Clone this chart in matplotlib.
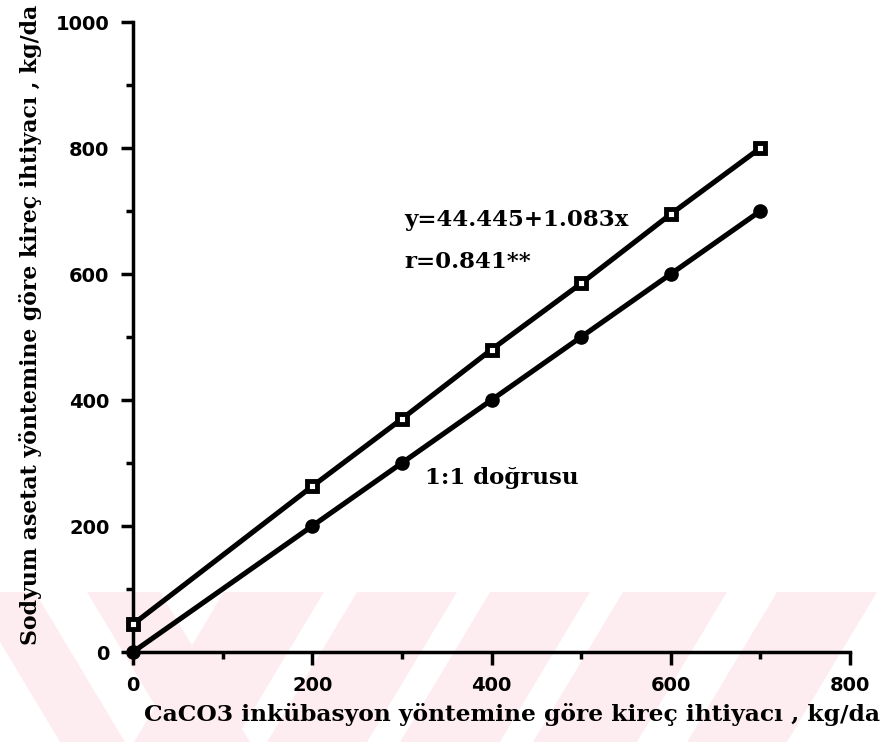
import numpy as np
import matplotlib.pyplot as plt
from matplotlib.ticker import MultipleLocator
from matplotlib.patches import Polygon

###--- Data ---###
x_pts = [0, 200, 300, 400, 500, 600, 700]
y_sodyum = [44, 263, 370, 480, 585, 695, 800]   # Sodyum asetat yontemi
y_one = [0, 200, 300, 400, 500, 600, 700]       # 1:1 dogrusu

xlab = 'CaCO3 inkübasyon yöntemine göre kireç ihtiyacı , kg/da'
ylab = 'Sodyum asetat yöntemine göre kireç ihtiyacı , kg/da'
eq_txt = 'y=44.445+1.083x'
r_txt = 'r=0.841**'
one_txt = '1:1 doğrusu'

W, H = 884., 742.

###--- Plotting ---###
fig = plt.figure()
fig.set_size_inches(W/100, H/100)

##-- faint watermark stripes at the bottom (scan artefact), behind everything --##
bg = fig.add_axes([0, 0, 1, 1], zorder=-1)
bg.set_xlim(0, W); bg.set_ylim(H, 0); bg.axis('off')
pink = '#fdedf0'
ytop, ybot, sh = 592, 742, 90
for x0, x1 in [(-30, 35), (87, 160)]:          # "\" stripes on the left
    bg.add_patch(Polygon([[x0, ytop], [x1, ytop], [x1+sh, ybot], [x0+sh, ybot]],
                         facecolor=pink, edgecolor='none'))
for x0, x1 in [(224, 324), (357, 457), (490, 590), (623, 727), (777, 877)]:  # "/" stripes
    bg.add_patch(Polygon([[x0, ytop], [x1, ytop], [x1-sh, ybot], [x0-sh, ybot]],
                         facecolor=pink, edgecolor='none'))

ax = fig.add_axes([133/W, 1-652/H, 717/W, 630/H])
ax.patch.set_alpha(0)

ax.plot(x_pts, y_sodyum, color='k', lw=3.7, marker='s', ms=7.5,
        mfc='white', mec='k', mew=3.5, clip_on=False, zorder=3)
ax.plot(x_pts, y_one, color='k', lw=3.7, marker='o', ms=9.5,
        mfc='k', mec='k', clip_on=False, zorder=3)

ax.set_xlim(0, 800)
ax.set_ylim(0, 1000)
ax.xaxis.set_major_locator(MultipleLocator(200))
ax.xaxis.set_minor_locator(MultipleLocator(100))
ax.yaxis.set_major_locator(MultipleLocator(200))
ax.yaxis.set_minor_locator(MultipleLocator(100))

for s in ['top', 'right']:
    ax.spines[s].set_visible(False)
for s in ['left', 'bottom']:
    ax.spines[s].set_linewidth(2.5)

ax.tick_params(axis='both', which='major', direction='out', length=9, width=2.5, pad=8)
ax.tick_params(axis='both', which='minor', direction='out', length=5, width=2.5)
for lab in ax.get_xticklabels() + ax.get_yticklabels():
    lab.set_fontproperties({'family': 'DejaVu Sans', 'weight': 'bold', 'size': 14})

sfont = {'family': 'DejaVu Serif', 'weight': 'bold', 'size': 16.5}
ax.set_xlabel(xlab, fontdict=dict(sfont, size=16.8), labelpad=6, x=0.529)
ax.set_ylabel(ylab, fontdict=dict(sfont, size=15.8), labelpad=10, y=0.52)

ax.text(303, 686, eq_txt, fontdict=sfont, va='center')
ax.text(303, 619, r_txt, fontdict=sfont, va='center')
ax.text(326, 276, one_txt, fontdict=sfont, va='center')

fig.savefig('out.png', dpi=100)
